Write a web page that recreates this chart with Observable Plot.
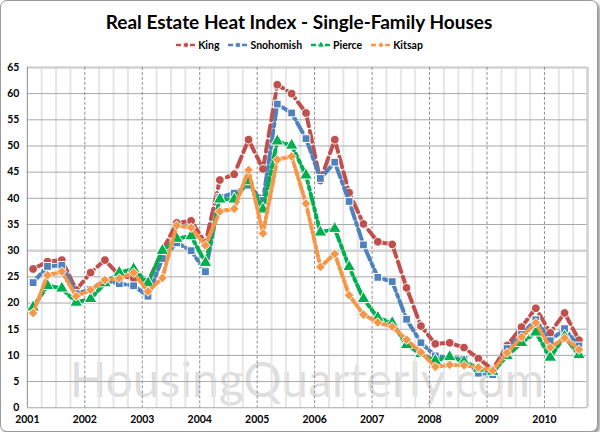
<!DOCTYPE html>
<html><head><meta charset="utf-8">
<script src="https://cdn.jsdelivr.net/npm/d3@7"></script>
<script src="https://cdn.jsdelivr.net/npm/@observablehq/plot@0.6"></script>
<style>
body{margin:0;background:#fff;}
#frame{position:relative;width:596px;height:430px;border:1px solid #9a9a9a;border-radius:7px;box-shadow:2px 2px 3px #9a9a9a;background:#fff;font-family:Lato,"Open Sans",sans-serif;overflow:hidden}
#title{position:absolute;top:9px;left:0;width:100%;text-align:center;font-weight:bold;font-size:19px;color:#000;}
#legend{position:absolute;top:38px;left:0;width:100%;display:flex;justify-content:center;gap:8px;font-weight:bold;font-size:10.5px;color:#000;}
#legend .item{display:flex;align-items:center;gap:1px}
#watermark{position:absolute;left:6px;width:600px;top:354px;height:48px;line-height:1;text-align:center;font-size:48px;color:#dedede;font-family:Lato,sans-serif;}
#chart{position:absolute;top:56px;left:-1px}
</style></head>
<body>
<div id="frame">
  <div id="title">Real Estate Heat Index - Single-Family Houses</div>
  <div id="legend"></div>
  <div id="watermark">HousingQuarterly.com</div>
  <div id="chart"></div>
</div>
<script>
// Quarterly observations, 2001 Q1 .. 2010 Q3
const quarterLabels = [];
for (let y = 2001; y <= 2010; y++) for (let q = 1; q <= 4; q++) quarterLabels.push(y + " Q" + q);
quarterLabels.length = 39;

const years = [2001,2002,2003,2004,2005,2006,2007,2008,2009,2010];
const yTicks = [0,5,10,15,20,25,30,35,40,45,50,55,60,65];

const king = [26.5,27.9,28.2,22.5,25.8,28.2,25.3,24.7,24.0,30.0,35.3,35.7,31.5,43.5,44.6,51.2,45.6,61.7,60.0,56.3,43.4,51.2,41.1,35.1,31.7,31.2,22.9,15.6,12.2,12.4,11.5,9.4,7.3,11.9,15.4,19.0,14.3,18.1,12.9];
const snohomish = [23.9,27.0,27.2,21.8,22.6,24.3,23.7,23.3,21.3,28.5,31.5,30.0,26.0,40.2,41.0,42.5,39.6,58.0,56.3,51.4,43.8,46.9,39.4,31.1,24.9,24.1,16.9,12.4,9.9,9.5,9.3,6.6,6.3,11.3,14.0,16.8,12.8,15.1,11.8];
const pierce = [19.2,23.3,22.8,20.1,20.8,23.8,25.8,26.5,23.8,30.0,32.3,32.8,27.7,39.8,39.8,43.3,37.9,50.9,50.1,44.4,33.5,34.2,26.9,20.8,17.2,16.2,12.0,10.3,9.0,9.7,8.8,7.5,6.9,9.9,12.4,14.4,9.6,13.6,10.1];
const kitsap = [18.1,25.3,26.0,21.3,22.5,24.4,24.7,25.8,22.2,24.8,34.8,34.4,31.0,37.5,38.0,45.4,33.3,47.4,48.0,39.0,26.9,29.4,21.5,17.8,16.3,15.5,13.0,10.6,7.8,8.2,8.1,7.7,7.1,10.5,13.5,16.2,11.5,13.3,11.1];

const seriesNames = ["King","Snohomish","Pierce","Kitsap"];
const seriesValues = [king, snohomish, pierce, kitsap];
const styles = {
  King:      {color:"#C0504D", symbol:"circle",   r:4.4, dash:"11,5"},
  Snohomish: {color:"#4F81BD", symbol:"square",   r:4.4, dash:"11,4,3,4"},
  Pierce:    {color:"#00B050", symbol:"triangle", r:4.8, dash:"11,4,3,4,3,4"},
  Kitsap:    {color:"#F79646", symbol:"diamond2", r:4.4, dash:"6,3,2,3"}
};

// decimal-year position of each quarterly observation
function qPos(label){ const [y,q] = label.split(" Q"); return +y + (+q - 1) * 0.25 + 0.1; }

const rows = [];
seriesNames.forEach((name, s) => seriesValues[s].forEach((v, i) => rows.push({series:name, x:qPos(quarterLabels[i]), y:v})));

const minorTicks = d3.range(2001, 2010.76, 0.25).filter(t => Math.abs(t - Math.round(t)) > 1e-6);
const dashedYears = years.filter(y => y > 2001);

const marks = [
  Plot.ruleX(minorTicks, {stroke:"#e6e6e6", strokeWidth:2}),
  Plot.ruleY(yTicks.filter(t => t !== 30 && t !== 65), {stroke:"#a8a8a8", strokeWidth:1}),
  Plot.ruleY([30, 65], {stroke:"#d2d2d2", strokeWidth:2.5}),
  Plot.ruleX(dashedYears, {stroke:"#8c8c8c", strokeWidth:1, strokeDasharray:"3,2"}),
  Plot.ruleX([2001], {stroke:"#8c8c8c", strokeWidth:1}),
  Plot.ruleX([2010.75], {stroke:"#d2d2d2", strokeWidth:2.5})
];
seriesNames.forEach(name => {
  const st = styles[name];
  const data = rows.filter(d => d.series === name);
  marks.push(Plot.line(data, {x:"x", y:"y", stroke:st.color, strokeWidth:4, strokeDasharray:st.dash, strokeLinejoin:"round"}));
  marks.push(Plot.dot(data, {x:"x", y:"y", symbol:() => st.symbol, r:st.r, fill:st.color, stroke:"white", strokeWidth:1}));
});

const chart = Plot.plot({
  width: 600, height: 378,
  marginTop: 10, marginBottom: 26, marginLeft: 27, marginRight: 10,
  style: {background:"transparent", fontFamily:"Lato, 'Open Sans', sans-serif", fontSize:"10.5px", fontWeight:"bold", color:"#000"},
  x: {type:"linear", domain:[2001, 2010.75], ticks: years, tickFormat: d => String(d), tickSize:0, tickPadding:8, label:null},
  y: {domain:[0,65], ticks: yTicks, tickSize:0, tickPadding:8, label:null},
  symbol: {type:"identity"},
  marks
});
document.getElementById("chart").appendChild(chart);

// legend
const legend = document.getElementById("legend");
seriesNames.forEach(name => {
  const st = styles[name];
  const item = document.createElement("div"); item.className = "item";
  const ns = "http://www.w3.org/2000/svg";
  const svg = document.createElementNS(ns, "svg");
  svg.setAttribute("width", 22); svg.setAttribute("height", 10);
  const line = document.createElementNS(ns, "line");
  line.setAttribute("x1", 1); line.setAttribute("x2", 21); line.setAttribute("y1", 5); line.setAttribute("y2", 5);
  line.setAttribute("stroke", st.color); line.setAttribute("stroke-width", 2.5); line.setAttribute("stroke-dasharray", "5,2");
  svg.appendChild(line);
  const p = document.createElementNS(ns, "path");
  const symMap = {circle:d3.symbolCircle, square:d3.symbolSquare, triangle:d3.symbolTriangle, diamond2:d3.symbolDiamond2};
  p.setAttribute("d", d3.symbol(symMap[st.symbol], 22)());
  p.setAttribute("transform", "translate(11,5)");
  p.setAttribute("fill", st.color); p.setAttribute("stroke", "white"); p.setAttribute("stroke-width", 0.8);
  svg.appendChild(p);
  const t = document.createElement("span"); t.textContent = name;
  item.appendChild(svg); item.appendChild(t);
  legend.appendChild(item);
});
</script>
</body></html>
